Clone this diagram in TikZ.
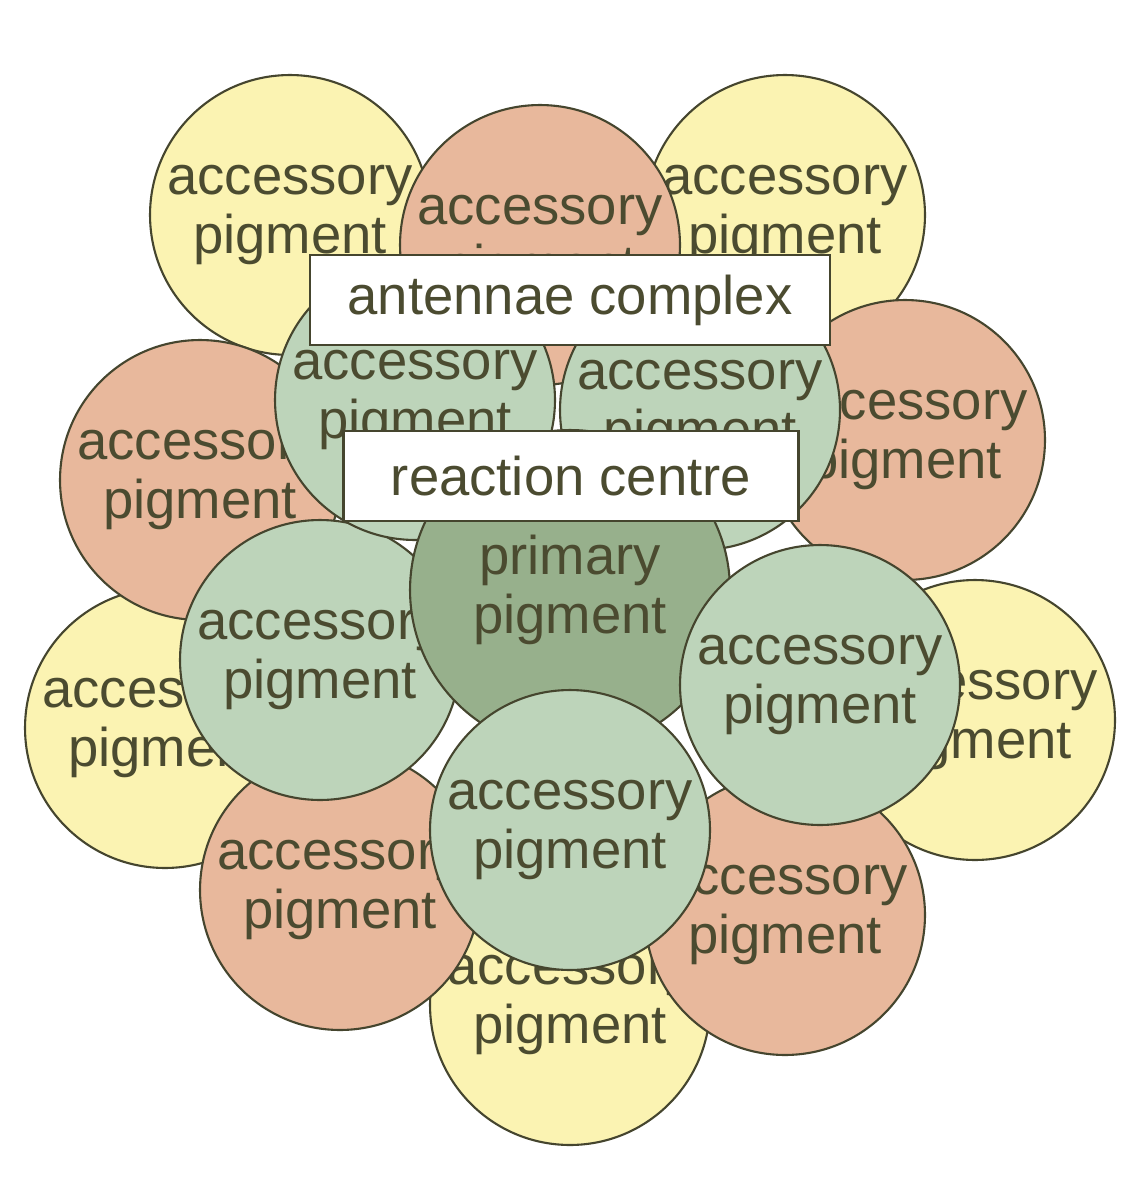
\documentclass[tikz,border=0pt]{standalone}
\usepackage{fontspec}
\setmainfont{Liberation Sans}
\definecolor{pyellow}{HTML}{FBF3B2}
\definecolor{psalmon}{HTML}{E8B89C}
\definecolor{pgreen}{HTML}{BDD4BA}
\definecolor{pdark}{HTML}{97B08C}
\definecolor{pline}{HTML}{45452E}
\definecolor{ptext}{HTML}{4B4B30}
\tikzstyle{pig}=[circle,draw=pline,line width=1.2pt,align=center,text=ptext,font=\fontsize{31}{34}\selectfont,inner sep=0pt,minimum size=5.6cm]
\tikzstyle{myyellow}=[pig,fill=pyellow]
\tikzstyle{mysalmon}=[pig,fill=psalmon]
\tikzstyle{mygreen}=[pig,fill=pgreen]
\tikzstyle{mylabel}=[draw=pline,line width=1.2pt,fill=white,text=ptext,font=\fontsize{31}{34}\selectfont]
\begin{document}
\begin{tikzpicture}[x=0.02cm,y=-0.02cm]
		\useasboundingbox[fill=white] (0,0) rectangle (1140,1200);
		% outer ring
		\foreach \n / \x / \y in {ya/290/215,yb/785/215,yc/165/728,yd/975/720,ye/570/1005} {\node[myyellow] (\n) at (\x,\y) {accessory\\pigment};}
		\foreach \n / \x / \y in {sa/540/245,sb/200/480,sc/905/440,sd/340/890,se/785/915} {\node[mysalmon] (\n) at (\x,\y) {accessory\\pigment};}
		% reaction centre
		\foreach \n / \x / \y in {ga/320/660,gb/415/400,gc/700/410} {\node[mygreen] (\n) at (\x,\y) {accessory\\pigment};}
		\node[pig,fill=pdark,minimum size=6.4cm] (prim) at (570,590) {primary\\pigment};
		\foreach \n / \x / \y in {gd/820/685,ge/570/830} {\node[mygreen] (\n) at (\x,\y) {accessory\\pigment};}

		\node[mylabel,minimum width=10.4cm,minimum height=1.8cm] (ant) at (570,300) {antennae complex};
		\node[mylabel,minimum width=9.1cm,minimum height=1.8cm] (rc) at (571,476) {reaction centre};
	\end{tikzpicture}
\end{document}
